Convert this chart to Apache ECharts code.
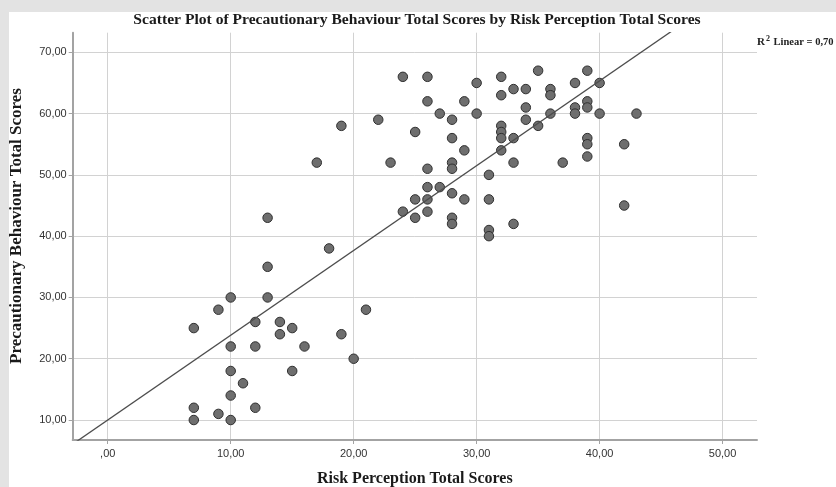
<!DOCTYPE html>
<html>
<head>
<meta charset="utf-8">
<script src="https://cdn.jsdelivr.net/npm/echarts@6/dist/echarts.min.js"></script>
<style>
  html, body { margin: 0; padding: 0; background: #e3e3e3; }
  #paper { position: absolute; left: 9px; top: 12px; width: 827px; height: 475px; background: #ffffff; }
  #chart { position: absolute; left: 0; top: 0; width: 836px; height: 487px; }
</style>
</head>
<body>
<div id="paper"></div>
<div id="chart"></div>
<script>
// Risk Perception Total Scores (x)
const riskScores = [
  7, 7, 7, 9, 9, 10, 10, 10, 10, 10, 11,
  12, 12, 12, 13, 13, 13, 14, 14, 15, 15, 16, 17, 18, 19, 19, 20, 21, 22, 23, 24, 24,
  25, 25, 25, 26, 26, 26, 26, 26, 26, 27, 27,
  28, 28, 28, 28, 28, 28, 28,
  29, 29, 29,
  30, 30,
  31, 31, 31, 31,
  32, 32, 32, 32, 32, 32,
  33, 33, 33, 33,
  34, 34, 34,
  35, 35,
  36, 36, 36,
  37,
  38, 38, 38,
  39, 39, 39, 39, 39, 39,
  40, 40,
  42, 42,
  43
];
// Precautionary Behaviour Total Scores (y)
const behaviourScores = [
  25, 12, 10, 28, 11, 30, 22, 18, 14, 10, 16,
  26, 22, 12, 43, 35, 30, 26, 24, 25, 18, 22, 52, 38, 58, 24, 20, 28, 59, 52, 66, 44,
  57, 46, 43, 66, 62, 51, 48, 46, 44, 60, 48,
  59, 56, 52, 51, 47, 43, 42,
  62, 54, 46,
  65, 60,
  50, 46, 41, 40,
  66, 63, 58, 57, 56, 54,
  64, 56, 52, 42,
  64, 61, 59,
  67, 58,
  64, 63, 60,
  52,
  65, 61, 60,
  67, 62, 61, 56, 55, 53,
  65, 60,
  55, 45,
  60
];
const xTicks = [0, 10, 20, 30, 40, 50];
const yTicks = [10, 20, 30, 40, 50, 60, 70];
const fitLabel = '0,70';
const xTitle = 'Risk Perception Total Scores';
const yTitle = 'Precautionary Behaviour Total Scores';
const mainTitle = 'Scatter Plot of Precautionary Behaviour Total Scores by Risk Perception Total Scores';

const xMin = -2.85, xMax = 52.8;
const yMin = 6.74, yMax = 73.2;

const points = riskScores.map((x, i) => [x, behaviourScores[i]]);

// least-squares linear fit
const n = points.length;
let sx = 0, sy = 0, sxx = 0, sxy = 0;
points.forEach(([x, y]) => { sx += x; sy += y; sxx += x * x; sxy += x * y; });
const slope = (n * sxy - sx * sy) / (n * sxx - sx * sx);
const intercept = (sy - slope * sx) / n;
const fitLine = [[xMin, intercept + slope * xMin], [xMax, intercept + slope * xMax]];

function fmt(v) {
  const s = v.toFixed(2).replace('.', ',');
  return s.startsWith('0,') ? s.slice(1) : s;
}

const serif = 'Liberation Serif';
const chart = echarts.init(document.getElementById('chart'), null, { renderer: 'canvas' });
chart.setOption({
  animation: false,
  backgroundColor: 'transparent',
  title: [{
    text: mainTitle,
    left: 417, top: 12, padding: 0, textAlign: 'center',
    textStyle: { fontFamily: serif, fontWeight: 'bold', fontSize: 15.6, color: '#1a1a1a' }
  }, {
    text: '{a|R}{s|2}{b| Linear = ' + fitLabel + '}',
    left: 757, top: 35, padding: 0,
    textStyle: {
      rich: {
        a: { fontFamily: serif, fontSize: 11, color: '#222', verticalAlign: 'bottom' },
        s: { fontFamily: serif, fontSize: 8, color: '#222', verticalAlign: 'top', padding: [0, 1, 5, 1] },
        b: { fontFamily: serif, fontSize: 10.5, color: '#222', verticalAlign: 'bottom' }
      }
    }
  }],
  graphic: [{
    type: 'text',
    x: 17, y: 226, rotation: Math.PI / 2,
    style: {
      text: yTitle, fontFamily: serif, fontWeight: 'bold', fontSize: 17, fill: '#1a1a1a',
      align: 'center', verticalAlign: 'middle'
    }
  }],
  grid: { left: 72.7, top: 32.7, right: 79, bottom: 47, containLabel: false, outerBoundsMode: 'none' },
  xAxis: {
    type: 'value', min: xMin, max: xMax,
    name: xTitle, nameLocation: 'middle', nameGap: 31,
    nameTextStyle: { fontFamily: serif, fontWeight: 'bold', fontSize: 16, color: '#1a1a1a' },
    axisLine: { show: true, onZero: false, lineStyle: { color: '#a3a3a3', width: 2 } },
    axisTick: { show: true, customValues: xTicks, length: 4, lineStyle: { color: '#a3a3a3' } },
    axisLabel: { customValues: xTicks, formatter: fmt, fontFamily: 'Liberation Sans', fontSize: 11, color: '#333', margin: 8 },
    splitLine: { show: true, lineStyle: { color: '#d2d2d2', width: 1 } }
  },
  yAxis: {
    type: 'value', min: yMin, max: yMax,
    axisLine: { show: true, onZero: false, lineStyle: { color: '#a3a3a3', width: 2 } },
    axisTick: { show: true, customValues: yTicks, length: 4, lineStyle: { color: '#a3a3a3' } },
    axisLabel: { customValues: yTicks, formatter: fmt, fontFamily: 'Liberation Sans', fontSize: 11, color: '#333', margin: 6 },
    splitLine: { show: true, lineStyle: { color: '#d2d2d2', width: 1 } }
  },
  series: [{
    type: 'scatter',
    data: points,
    symbol: 'circle',
    symbolSize: 9.5,
    itemStyle: { color: '#6e6e6e', borderColor: '#2f2f2f', borderWidth: 1, opacity: 1 },
    z: 3
  }, {
    type: 'line',
    data: fitLine,
    symbol: 'none',
    clip: true,
    lineStyle: { color: '#4d4d4d', width: 1.3 },
    z: 4
  }]
});
</script>
</body>
</html>
